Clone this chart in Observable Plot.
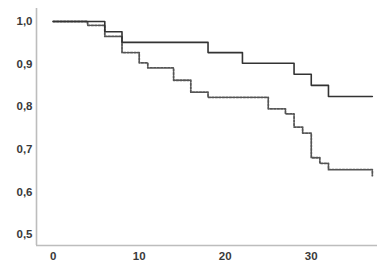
<!DOCTYPE html>
<html>
<head>
<meta charset="utf-8">
<script src="https://cdn.jsdelivr.net/npm/d3@7"></script>
<script src="https://cdn.jsdelivr.net/npm/@observablehq/plot@0.6"></script>
<style>
  html, body { margin: 0; padding: 0; background: #fff; }
  #chart { width: 377px; height: 271px; overflow: hidden; }
</style>
</head>
<body>
<div id="chart"></div>
<script>
// Group 1 (solid line)
const solidTimes = [0, 6, 8, 18, 22, 28, 30, 32, 37.1];
const solidSurv  = [1, 0.976, 0.951, 0.927, 0.902, 0.876, 0.850, 0.824, 0.824];
// Group 2 (dotted line)
const dottedTimes = [0, 4, 6, 8, 10, 11, 14, 16, 18, 25, 27, 28, 29, 30, 31, 32, 37.1];
const dottedSurv  = [1, 0.991, 0.965, 0.927, 0.903, 0.891, 0.862, 0.834, 0.822, 0.795, 0.783, 0.752, 0.738, 0.680, 0.667, 0.652, 0.638];
// Tick labels
const xTicks = [0, 10, 20, 30];
const yTicks = [0.5, 0.6, 0.7, 0.8, 0.9, 1.0];

const solid = solidTimes.map((t, i) => ({t, s: solidSurv[i]}));
const dotted = dottedTimes.map((t, i) => ({t, s: dottedSurv[i]}));

const xDomain = [-1.94, 37.7];
const yDomain = [0.474, 1.0305];
const fmt = d => d3.format(".1f")(d).replace(".", ",");

const chart = Plot.plot({
  width: 377,
  height: 271,
  marginLeft: 36,
  marginRight: 0,
  marginTop: 8,
  marginBottom: 26,
  style: {fontFamily: "Liberation Sans, Arial, sans-serif", fontSize: "11.5px", fontWeight: "bold", color: "#3a3a3a", background: "#fff"},
  x: {domain: xDomain},
  y: {domain: yDomain},
  marks: [
    Plot.axisX({ticks: xTicks, tickSize: 0, tickPadding: 6, label: null, fill: "#3a3a3a"}),
    Plot.axisY({ticks: yTicks, tickSize: 0, tickPadding: 4, label: null, tickFormat: fmt, fill: "#3a3a3a"}),
    Plot.ruleX([xDomain[0]], {stroke: "#bdbdbd", strokeWidth: 1.6}),
    Plot.ruleY([yDomain[0]], {stroke: "#bdbdbd", strokeWidth: 1.6}),
    Plot.line(dotted, {x: "t", y: "s", curve: "step-after", stroke: "#555", strokeWidth: 1.8, strokeDasharray: "2,1.5"}),
    Plot.line(solid, {x: "t", y: "s", curve: "step-after", stroke: "#333", strokeWidth: 1.6})
  ]
});
document.getElementById("chart").appendChild(chart);
</script>
</body>
</html>
